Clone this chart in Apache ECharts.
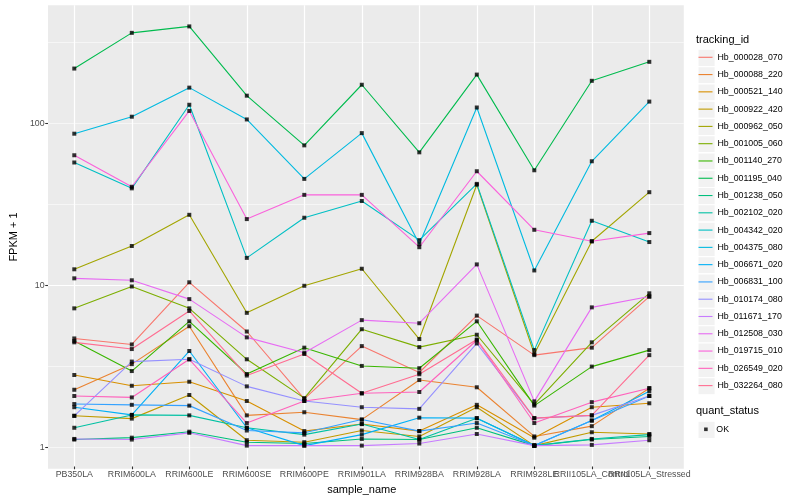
<!DOCTYPE html>
<html><head><meta charset="utf-8">
<script src="https://cdn.jsdelivr.net/npm/echarts@6/dist/echarts.min.js"></script>
<style>html,body{margin:0;padding:0;background:#fff}#c{width:800px;height:500px}</style>
</head><body><div id="c"></div><script>
// ---- data ----
const sampleNames = ['PB350LA','RRIM600LA','RRIM600LE','RRIM600SE','RRIM600PE','RRIM901LA','RRIM928BA','RRIM928LA','RRIM928LE','RRII105LA_Control','RRII105LA_Stressed'];
const yTickValues = [1, 10, 100];
const trackingIds = ['Hb_000028_070','Hb_000088_220','Hb_000521_140','Hb_000922_420','Hb_000962_050','Hb_001005_060','Hb_001140_270','Hb_001195_040','Hb_001238_050','Hb_002102_020','Hb_004342_020','Hb_004375_080','Hb_006671_020','Hb_006831_100','Hb_010174_080','Hb_011671_170','Hb_012508_030','Hb_019715_010','Hb_026549_020','Hb_032264_080'];
const quantStatus = 'OK';

const hb_000028_070 = [4.62, 4.24, 10.3, 5.1, 1.95, 4.14, 2.84, 6.4, 3.64, 4.05, 8.4];
const hb_000088_220 = [2.22, 3.2, 5.5, 1.54, 1.61, 1.45, 2.55, 2.3, 1.14, 1.32, 2.27];
const hb_000521_140 = [2.74, 2.35, 2.49, 1.89, 1.23, 1.36, 1.23, 1.79, 1.12, 1.73, 1.83];
const hb_000922_420 = [1.53, 1.47, 2.06, 1.08, 1.05, 1.24, 1.14, 1.73, 1.0, 1.21, 1.18];
const hb_000962_050 = [12.4, 17.3, 27.0, 6.66, 9.8, 12.5, 4.58, 41.5, 3.7, 18.5, 37.3];
const hb_001005_060 = [7.1, 9.7, 7.1, 3.43, 1.97, 5.27, 4.08, 4.87, 1.8, 4.37, 8.8];
const hb_001140_270 = [4.45, 2.9, 5.9, 2.78, 4.05, 3.12, 3.02, 5.9, 1.77, 3.09, 3.91];
const hb_001195_040 = [218, 363, 398, 148, 72.8, 173, 65.9, 200, 51, 183, 240];
const hb_001238_050 = [1.09, 1.12, 1.22, 1.05, 1.03, 1.1, 1.09, 1.29, 1.0, 1.09, 1.14];
const hb_002102_020 = [1.29, 1.55, 1.54, 1.29, 1.17, 1.36, 1.09, 1.48, 1.0, 1.1, 1.17];
const hb_004342_020 = [57.0, 39.4, 130, 14.6, 25.9, 32.9, 18.8, 42.0, 3.91, 24.8, 18.3];
const hb_004375_080 = [86.0, 109.6, 166, 105.4, 45.1, 86.7, 17.8, 125, 12.2, 58, 136];
const hb_006671_020 = [1.73, 1.55, 3.86, 1.29, 1.0, 1.17, 1.49, 1.48, 1.0, 1.43, 2.17];
const hb_006831_100 = [1.81, 1.79, 1.77, 1.24, 1.2, 1.45, 1.23, 1.38, 1.0, 1.43, 2.03];
const hb_010174_080 = [1.53, 3.32, 3.43, 2.33, 1.89, 1.73, 1.69, 4.3, 1.48, 1.54, 2.03];
const hb_011671_170 = [1.10, 1.09, 1.2, 1.0, 1.0, 1.0, 1.03, 1.18, 1.0, 1.01, 1.08];
const hb_012508_030 = [10.9, 10.6, 8.1, 4.69, 3.77, 6.0, 5.74, 13.3, 1.88, 7.2, 8.4];
const hb_019715_010 = [63.2, 40.3, 119, 25.4, 35.9, 35.9, 17.0, 50.3, 21.8, 18.5, 20.8];
const hb_026549_020 = [2.03, 1.99, 3.43, 1.38, 1.89, 2.11, 2.15, 4.5, 1.38, 1.86, 2.27];
const hb_032264_080 = [4.37, 3.97, 6.84, 2.72, 3.7, 2.11, 2.77, 4.55, 1.48, 1.54, 3.64];

const seriesValues = [hb_000028_070, hb_000088_220, hb_000521_140, hb_000922_420, hb_000962_050,
  hb_001005_060, hb_001140_270, hb_001195_040, hb_001238_050, hb_002102_020, hb_004342_020,
  hb_004375_080, hb_006671_020, hb_006831_100, hb_010174_080, hb_011671_170, hb_012508_030,
  hb_019715_010, hb_026549_020, hb_032264_080];

// ---- styling ----
const palette = ['#F8766D','#EA8331','#D89000','#C09B00','#A3A500','#7CAE00','#39B600','#00BB4E','#00BF7D','#00C1A3','#00BFC4','#00BAE0','#00B0F6','#35A2FF','#9590FF','#C77CFF','#E76BF3','#FA62DB','#FF62BC','#FF6C91'];
const FONT = '"Liberation Sans", Arial, Helvetica, sans-serif';
const yMin = 0.742, yMax = 538;
const panel = {left: 40, top: 5.3, right: 683.8, bottom: 468.7};
const catLeft = 74.3, catRight = 649.3;
const keySize = 17.28, keyX = 697.3, keyTop = 48.65, okTop = 420.66;

const chart = echarts.init(document.getElementById('c'), null, {renderer: 'canvas'});

const lineSeries = trackingIds.map((id, i) => ({
  name: id, type: 'line', xAxisIndex: 1, yAxisIndex: 2,
  data: seriesValues[i], symbol: 'none', showSymbol: false,
  lineStyle: {color: palette[i], width: 1.1}, itemStyle: {color: palette[i]},
  animation: false, silent: true, z: 2
}));
const pointData = [];
seriesValues.forEach(vals => vals.forEach((v, j) => pointData.push([sampleNames[j], v])));
const pointSeries = {
  name: quantStatus, type: 'scatter', xAxisIndex: 1, yAxisIndex: 2, data: pointData,
  symbol: 'rect', symbolSize: 4, itemStyle: {color: '#000'}, z: 3, animation: false, silent: true
};
const bgSeries = {type: 'line', xAxisIndex: 0, yAxisIndex: 0, data: [], silent: true};

const graphics = [];
for (let i = 0; i < trackingIds.length; i++) {
  graphics.push({type: 'rect', left: keyX, top: keyTop + i * keySize, z: -1,
    shape: {width: keySize, height: keySize}, style: {fill: '#F2F2F2', stroke: '#fff', lineWidth: 1.2}});
}
graphics.push({type: 'rect', left: keyX, top: okTop, z: -1,
  shape: {width: keySize, height: keySize}, style: {fill: '#F2F2F2', stroke: '#fff', lineWidth: 1.2}});
graphics.push({type: 'text', left: 696, top: 34.2, style: {text: 'tracking_id', fontSize: 11, fontFamily: FONT, fill: '#000'}});
graphics.push({type: 'text', left: 696, top: 405.8, style: {text: 'quant_status', fontSize: 11, fontFamily: FONT, fill: '#000'}});

const logTick = v => Math.log10(v);

chart.setOption({
  backgroundColor: '#fff',
  animation: false,
  grid: [
    {left: panel.left, top: panel.top, width: panel.right - panel.left, height: panel.bottom - panel.top,
     show: true, backgroundColor: '#EBEBEB', borderWidth: 0, containLabel: false},
    {left: catLeft, top: panel.top, width: catRight - catLeft, height: panel.bottom - panel.top,
     show: false, containLabel: false}
  ],
  xAxis: [
    {gridIndex: 0, type: 'value', min: 0, max: 1, show: false},
    {gridIndex: 1, type: 'category', data: sampleNames, boundaryGap: false,
     axisLine: {show: false},
     axisTick: {show: true, length: 2.75, lineStyle: {color: '#333333', width: 1.07}, interval: 0},
     axisLabel: {interval: 0, fontSize: 8.8, color: '#4D4D4D', fontFamily: FONT, margin: 3.6},
     splitLine: {show: true, interval: 0, lineStyle: {color: '#FFFFFF', width: 1.2}},
     name: 'sample_name', nameLocation: 'middle', nameGap: 13.8,
     nameTextStyle: {fontSize: 11, color: '#000', fontFamily: FONT}}
  ],
  yAxis: [
    {gridIndex: 0, type: 'value', min: logTick(yMin), max: logTick(yMax), splitNumber: 3,
     axisLine: {show: false},
     axisTick: {show: true, length: 2.75, lineStyle: {color: '#333333', width: 1.07}, customValues: yTickValues.map(logTick)},
     axisLabel: {fontSize: 8.8, color: '#4D4D4D', fontFamily: FONT, margin: 3.4,
       customValues: yTickValues.map(logTick),
       formatter: v => String(Math.round(Math.pow(10, v)))},
     splitLine: {show: true, showMinLine: false, showMaxLine: false, lineStyle: {color: '#FFFFFF', width: 1.2}},
     name: 'FPKM + 1', nameLocation: 'middle', nameGap: 22, nameRotate: 90,
     nameTextStyle: {fontSize: 11, color: '#000', fontFamily: FONT}, z: 1},
    {gridIndex: 0, type: 'value', min: logTick(yMin), max: logTick(yMax), splitNumber: 6,
     axisLine: {show: false}, axisTick: {show: false}, axisLabel: {show: false},
     splitLine: {show: true, showMinLine: false, showMaxLine: false, lineStyle: {color: '#FFFFFF', width: 0.55}}, z: 0},
    {gridIndex: 1, type: 'log', logBase: 10, min: yMin, max: yMax, show: false,
     splitLine: {show: false}}
  ],
  legend: [
    {data: trackingIds.map((id, i) => ({name: id, icon: 'path://M0,0h14v1.1h-14z', itemStyle: {color: palette[i]}})),
     orient: 'vertical', left: 698.5, top: keyTop, itemWidth: 14, itemHeight: keySize, itemGap: 0,
     padding: 0, selectedMode: false,
     textStyle: {fontSize: 8.8, color: '#000', fontFamily: FONT, lineHeight: keySize, height: keySize, verticalAlign: 'middle'}},
    {data: [{name: quantStatus, icon: 'rect', itemStyle: {color: '#000'}}],
     orient: 'vertical', left: 704.1, top: okTop, itemWidth: 3.6, itemHeight: 3.6, itemGap: 0,
     padding: 0, selectedMode: false,
     textStyle: {fontSize: 8.8, color: '#000', fontFamily: FONT, lineHeight: keySize, height: keySize, verticalAlign: 'middle', padding: [0, 0, 0, 3.6]}}
  ],
  graphic: graphics,
  series: [bgSeries].concat(lineSeries, [pointSeries])
});
</script></body></html>
